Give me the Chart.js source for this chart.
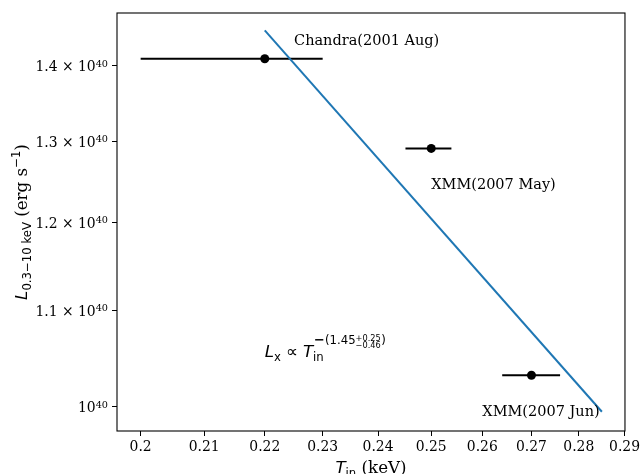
<!DOCTYPE html>
<html>
<head>
<meta charset="utf-8">
<script src="https://cdn.jsdelivr.net/npm/chart.js@4.4.0/dist/chart.umd.min.js"></script>
<style>
  html, body { margin: 0; padding: 0; background: #fff; }
  #wrap { width: 643px; height: 474px; }
</style>
</head>
<body>
<div id="wrap"><canvas id="chart" width="643" height="474"></canvas></div>
<script>
// tick values / labels
const xTicks = [0.2, 0.21, 0.22, 0.23, 0.24, 0.25, 0.26, 0.27, 0.28, 0.29];
const xTickLabels = ['0.2', '0.21', '0.22', '0.23', '0.24', '0.25', '0.26', '0.27', '0.28', '0.29'];
const yTicks = [1.0e40, 1.1e40, 1.2e40, 1.3e40, 1.4e40];
const yTickMantissa = ['', '1.1', '1.2', '1.3', '1.4'];

// observations
const obsNames = ['Chandra(2001 Aug)', 'XMM(2007 May)', 'XMM(2007 Jun)'];
const obsT = [0.22, 0.25, 0.27];
const obsTLow = [0.2, 0.2451, 0.264];
const obsTHigh = [0.23, 0.2539, 0.276];
const obsL = [1.410e40, 1.2906e40, 1.0315e40];

// where the observation names sit (data coords)
const nameT = [0.225, 0.25, 0.26];
const nameL = [1.43e40, 1.24e40, 0.991e40];

// power-law fit L ~ T^-1.45
const fitT = [0.22, 0.285];
const fitL = [1.450e40, 0.995e40];
const fitLabelT = 0.22;
const fitLabelL = 1.05e40;

const SERIF = '"DejaVu Serif", serif';
const SANS = '"DejaVu Sans", sans-serif';

const datasets = [];
datasets.push({
    data: fitT.map((t, i) => ({ x: t, y: fitL[i] })),
    showLine: true,
    borderColor: '#1f77b4',
    borderWidth: 2,
    pointRadius: 0
});
datasets.push({
    data: obsT.map((t, i) => ({ x: t, y: obsL[i] })),
    showLine: false,
    pointRadius: 4.5,
    pointBackgroundColor: '#000',
    pointBorderWidth: 0
});
obsT.forEach((t, i) => {
    datasets.push({
        data: [{ x: obsTLow[i], y: obsL[i] }, { x: obsTHigh[i], y: obsL[i] }],
        showLine: true,
        borderColor: '#000',
        borderWidth: 2,
        pointRadius: 0
    });
});

function runsWidth(ctx, runs) {
    let w = 0;
    runs.forEach(r => { ctx.font = r.font; w += ctx.measureText(r.text).width + (r.gap || 0); });
    return w;
}
function drawRuns(ctx, x, y, runs) {
    runs.forEach(r => {
        ctx.font = r.font;
        ctx.fillText(r.text, x, y + (r.dy || 0));
        x += ctx.measureText(r.text).width + (r.gap || 0);
    });
    return x;
}

const decorations = {
    id: 'decorations',
    afterDraw(chart) {
        const ctx = chart.ctx;
        const a = chart.chartArea;
        const xs = chart.scales.x, ys = chart.scales.y;
        ctx.save();
        // frame
        ctx.strokeStyle = '#000';
        ctx.lineWidth = 1.1;
        ctx.strokeRect(a.left, a.top, a.right - a.left, a.bottom - a.top);

        ctx.fillStyle = '#000';
        ctx.textAlign = 'left';
        ctx.textBaseline = 'alphabetic';

        // y tick labels, with superscript exponent
        yTicks.forEach((v, i) => {
            const py = ys.getPixelForValue(v);
            const right = a.left - 9;
            ctx.font = '9.7px ' + SERIF;
            const ew = ctx.measureText('40').width;
            ctx.fillText('40', right - ew, py + 1);
            ctx.font = '13.9px ' + SERIF;
            const main = yTickMantissa[i] ? yTickMantissa[i] + ' \u00d7 10' : '10';
            const mw = ctx.measureText(main).width;
            ctx.fillText(main, right - ew - mw, py + 5.5);
        });

        // observation names
        ctx.font = '14.5px ' + SERIF;
        obsNames.forEach((n, i) => {
            ctx.fillText(n, xs.getPixelForValue(nameT[i]), ys.getPixelForValue(nameL[i]));
        });

        // x title: T_in (keV)
        const xRuns = [
            { text: 'T', font: 'italic 16.7px ' + SANS },
            { text: 'in', font: '11.7px ' + SANS, dy: 3.5 },
            { text: ' (keV)', font: '16.7px ' + SERIF }
        ];
        const xw = runsWidth(ctx, xRuns);
        drawRuns(ctx, (a.left + a.right) / 2 - xw / 2, 473, xRuns);

        // y title: L_{0.3-10 keV} (erg s^-1)
        const yRuns = [
            { text: 'L', font: 'italic 16.7px ' + SANS },
            { text: '0.3\u221210 keV', font: '11.7px ' + SANS, dy: 3.5 },
            { text: ' (erg s', font: '16.7px ' + SERIF },
            { text: '\u22121', font: '11.7px ' + SANS, dy: -7 },
            { text: ')', font: '16.7px ' + SERIF }
        ];
        const yw = runsWidth(ctx, yRuns);
        ctx.save();
        ctx.translate(27, (a.top + a.bottom) / 2);
        ctx.rotate(-Math.PI / 2);
        drawRuns(ctx, -yw / 2, 0, yRuns);
        ctx.restore();

        // fit formula
        const fx = xs.getPixelForValue(fitLabelT);
        const fy = ys.getPixelForValue(fitLabelL);
        let cx = drawRuns(ctx, fx, fy, [
            { text: 'L', font: 'italic 16.7px ' + SANS },
            { text: 'x', font: '11.7px ' + SANS, dy: 3.5, gap: 5 },
            { text: '\u221d', font: '16.7px ' + SANS, gap: 5 },
            { text: 'T', font: 'italic 16.7px ' + SANS }
        ]);
        ctx.font = '11.7px ' + SANS;
        ctx.fillText('in', cx, fy + 3.5);
        cx = drawRuns(ctx, cx + 1, fy - 13, [
            { text: '\u2212', font: 'bold 13px ' + SANS },
            { text: '(1.45', font: '11.7px ' + SANS }
        ]);
        ctx.font = '8.2px ' + SANS;
        const w1 = ctx.measureText('+0.25').width;
        const w2 = ctx.measureText('\u22120.46').width;
        ctx.fillText('+0.25', cx, fy - 16.5);
        ctx.fillText('\u22120.46', cx, fy - 9.5);
        cx += Math.max(w1, w2) + 0.5;
        ctx.font = '11.7px ' + SANS;
        ctx.fillText(')', cx, fy - 13);

        ctx.restore();
    }
};

new Chart(document.getElementById('chart'), {
    type: 'scatter',
    data: { datasets: datasets },
    options: {
        responsive: false,
        animation: false,
        devicePixelRatio: 1,
        layout: { padding: { left: 0, right: 17, top: 13, bottom: 0 } },
        plugins: { legend: { display: false }, tooltip: { enabled: false } },
        scales: {
            x: {
                type: 'logarithmic',
                min: 0.1964,
                max: 0.2901,
                bounds: 'data',
                afterBuildTicks: axis => { axis.ticks = xTicks.map(v => ({ value: v })); },
                afterFit: axis => { axis.height = 43; },
                grid: { drawOnChartArea: false, drawTicks: true, tickLength: 5, color: '#000', lineWidth: 1 },
                border: { display: false },
                ticks: {
                    autoSkip: false,
                    maxRotation: 0,
                    padding: 3,
                    color: '#000',
                    font: { family: SERIF, size: 13.9 },
                    callback: (value, index) => xTickLabels[index]
                }
            },
            y: {
                type: 'logarithmic',
                min: 0.9763e40,
                max: 1.4752e40,
                bounds: 'data',
                afterBuildTicks: axis => { axis.ticks = yTicks.map(v => ({ value: v })); },
                afterFit: axis => { axis.width = 117; },
                grid: { drawOnChartArea: false, drawTicks: true, tickLength: 5, color: '#000', lineWidth: 1 },
                border: { display: false },
                ticks: { display: false }
            }
        }
    },
    plugins: [decorations]
});
</script>
</body>
</html>
